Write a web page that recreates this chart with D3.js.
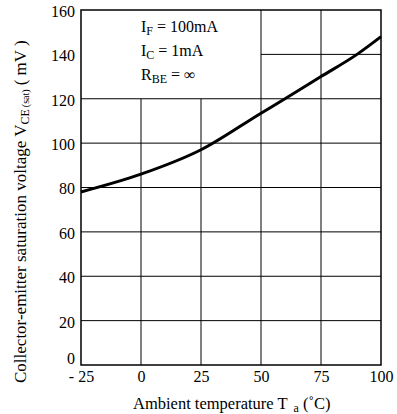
<!DOCTYPE html>
<html><head><meta charset="utf-8">
<script src="https://cdn.jsdelivr.net/npm/d3@7"></script>
<style>body{margin:0;background:#fff}svg{display:block}text{font-family:"Liberation Serif","Times New Roman",serif;fill:#000}</style>
</head><body>
<svg id="c" width="397" height="414"></svg>
<script>
const temps = [-25, 0, 25, 50, 60, 75, 90, 100];
const vce = [78, 86, 97, 113.5, 120, 130, 140, 148];
const xTicks = [-25, 0, 25, 50, 75, 100];
const xTickLabels = ["- 25", "0", "25", "50", "75", "100"];
const yTicks = [0, 20, 40, 60, 80, 100, 120, 140, 160];

const svg = d3.select("#c");
const L = 81, R = 381, T = 10, B = 365;
const x = d3.scaleLinear().domain([-25, 100]).range([L, R]);
const y = d3.scaleLinear().domain([0, 160]).range([B, T]);

const g = svg.append("g");
yTicks.filter(v => v > 0 && v < 160).forEach(v => {
  const x0 = v === 140 ? x(50) : L;
  g.append("line").attr("x1", x0).attr("x2", R).attr("y1", y(v)).attr("y2", y(v))
    .attr("stroke", "#000").attr("stroke-width", 1);
});
xTicks.filter(v => v > -25 && v < 100).forEach(v => {
  const y0 = v < 50 ? y(120) : T;
  g.append("line").attr("x1", x(v)).attr("x2", x(v)).attr("y1", y0).attr("y2", B)
    .attr("stroke", "#000").attr("stroke-width", 1);
});
g.append("rect").attr("x", L).attr("y", T).attr("width", R - L).attr("height", B - T)
  .attr("fill", "none").attr("stroke", "#000").attr("stroke-width", 1.5);

const xAxis = d3.axisBottom(x).tickValues(xTicks).tickSize(0).tickPadding(6)
  .tickFormat((d, i) => xTickLabels[i]);
const xa = svg.append("g").attr("transform", `translate(0,${B})`).call(xAxis);
xa.select(".domain").remove();
xa.selectAll("text").attr("font-size", 16).attr("font-family", "Liberation Serif").attr("fill", "#000");

const yAxis = d3.axisLeft(y).tickValues(yTicks).tickSize(0).tickPadding(6);
const ya = svg.append("g").attr("transform", `translate(${L},0)`).call(yAxis);
ya.select(".domain").remove();
ya.selectAll("text").attr("font-size", 16).attr("font-family", "Liberation Serif").attr("fill", "#000")
  .attr("dy", d => d === 0 ? "-0.1em" : "0.4em");

const line = d3.line().x((d, i) => x(temps[i])).y(d => y(d)).curve(d3.curveMonotoneX);
svg.append("path").datum(vce).attr("d", line).attr("fill", "none")
  .attr("stroke", "#000").attr("stroke-width", 3);

const leg = svg.append("g").attr("font-size", 16);
function sub(t, main, s, rest, yy) {
  const tx = t.append("text").attr("x", 141).attr("y", yy);
  tx.append("tspan").text(main);
  tx.append("tspan").attr("font-size", 12).attr("dy", 3).text(s);
  tx.append("tspan").attr("dy", -3).text(rest);
}
sub(leg, "I", "F", " = 100mA", 32);
sub(leg, "I", "C", " = 1mA", 56);
sub(leg, "R", "BE", " = ∞", 80);

const xt = svg.append("text").attr("x", 133).attr("y", 409).attr("font-size", 16.5);
xt.append("tspan").text("Ambient temperature T");
xt.append("tspan").attr("font-size", 12).attr("dx", 6).attr("dy", 3).text("a");
xt.append("tspan").attr("dx", 4).attr("dy", -3).text("(˚C)");

const yt = svg.append("text").attr("transform", "translate(26,383) rotate(-90)")
  .attr("font-size", 17);
yt.append("tspan").text("Collector-emitter saturation voltage V");
yt.append("tspan").attr("font-size", 12).attr("dy", 3).text("CE");
yt.append("tspan").attr("font-size", 10).attr("dx", 2).text("(sat)");
yt.append("tspan").attr("dx", 4).attr("dy", -3).text("( mV )");
</script>
</body></html>
